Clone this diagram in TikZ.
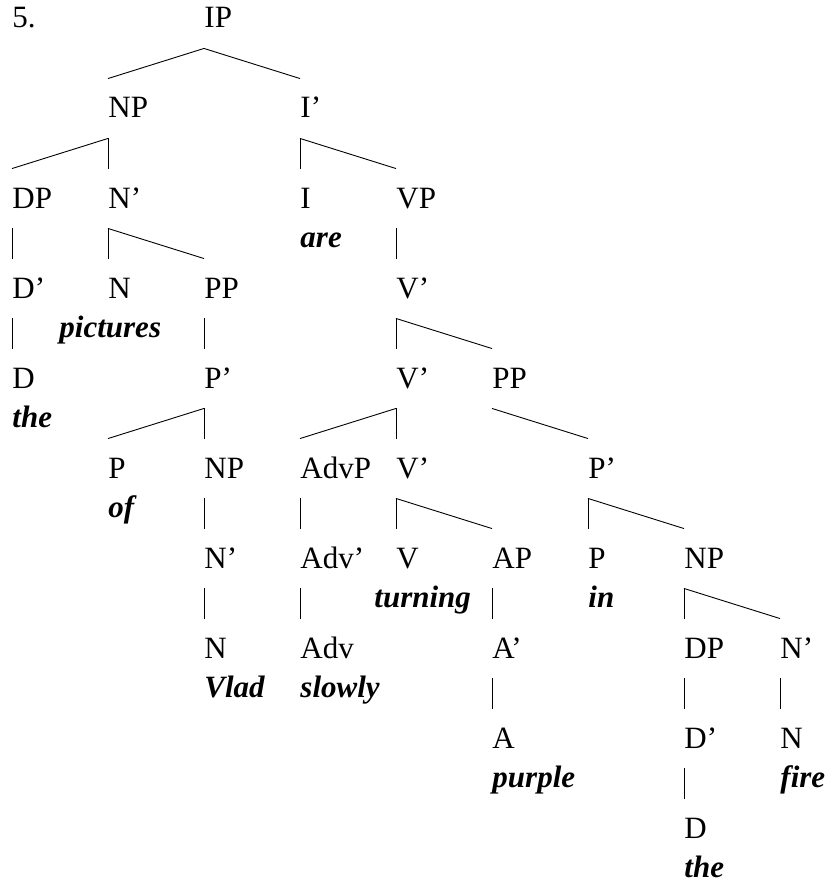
\documentclass[tikz,border=0pt]{standalone}
\usepackage{fontspec}
\setmainfont{Liberation Serif}
\usepackage{tikz}

\begin{document}
\begin{tikzpicture}[x=96pt, y=-90pt, line width=0.9pt,
    lab/.style = {anchor=base west, inner sep=0pt, font=\fontsize{31}{37}\selectfont, text height=39pt, text depth=20pt},
    word/.style = {lab, font=\fontsize{31}{37}\selectfont\bfseries\itshape, yshift=-39pt}]
    \useasboundingbox (-12pt,28pt) rectangle (815pt,-855pt);

    \node[lab] (num) at (0,0) {5.};
    \node[lab] (ip) at (2,0) {IP};
    \node[lab] (np) at (1,1) {NP};
    \node[lab] (ibar) at (3,1) {I'};
    \node[lab] (dp) at (0,2) {DP};
    \node[lab] (nbar) at (1,2) {N'};
    \node[lab] (i) at (3,2) {I};
    \node[word] (are) at (3,2) {are};
    \node[lab] (vp) at (4,2) {VP};
    \node[lab] (dbar) at (0,3) {D'};
    \node[lab] (n) at (1,3) {N};
    \node[word, xshift=-49pt] (pictures) at (1,3) {pictures};
    \node[lab] (pp) at (2,3) {PP};
    \node[lab] (vbar) at (4,3) {V'};
    \node[lab] (d) at (0,4) {D};
    \node[word] (the) at (0,4) {the};
    \node[lab] (pbar) at (2,4) {P'};
    \node[lab] (vbar2) at (4,4) {V'};
    \node[lab] (pp2) at (5,4) {PP};
    \node[lab] (p) at (1,5) {P};
    \node[word] (of) at (1,5) {of};
    \node[lab] (np2) at (2,5) {NP};
    \node[lab] (advp) at (3,5) {AdvP};
    \node[lab] (vbar3) at (4,5) {V'};
    \node[lab] (pbar2) at (6,5) {P'};
    \node[lab] (nbar2) at (2,6) {N'};
    \node[lab] (advbar) at (3,6) {Adv'};
    \node[lab] (v) at (4,6) {V};
    \node[word, xshift=-22pt] (turning) at (4,6) {turning};
    \node[lab] (ap) at (5,6) {AP};
    \node[lab] (p2) at (6,6) {P};
    \node[word] (in) at (6,6) {in};
    \node[lab] (np3) at (7,6) {NP};
    \node[lab] (n2) at (2,7) {N};
    \node[word] (vlad) at (2,7) {Vlad};
    \node[lab] (adv) at (3,7) {Adv};
    \node[word] (slowly) at (3,7) {slowly};
    \node[lab] (abar) at (5,7) {A'};
    \node[lab] (dp2) at (7,7) {DP};
    \node[lab] (nbar3) at (8,7) {N'};
    \node[lab] (a) at (5,8) {A};
    \node[word] (purple) at (5,8) {purple};
    \node[lab] (dbar2) at (7,8) {D'};
    \node[lab] (n3) at (8,8) {N};
    \node[word] (fire) at (8,8) {fire};
    \node[lab] (d2) at (7,9) {D};
    \node[word] (the2) at (7,9) {the};

    \draw (ip.south west) -- (np.north west);
    \draw (ip.south west) -- (ibar.north west);
    \draw (np.south west) -- (dp.north west);
    \draw (np.south west) -- (nbar.north west);
    \draw (ibar.south west) -- (i.north west);
    \draw (ibar.south west) -- (vp.north west);
    \draw (dp.south west) -- (dbar.north west);
    \draw (dbar.south west) -- (d.north west);
    \draw (nbar.south west) -- (n.north west);
    \draw (nbar.south west) -- (pp.north west);
    \draw (vp.south west) -- (vbar.north west);
    \draw (pp.south west) -- (pbar.north west);
    \draw (vbar.south west) -- (vbar2.north west);
    \draw (vbar.south west) -- (pp2.north west);
    \draw (pbar.south west) -- (p.north west);
    \draw (pbar.south west) -- (np2.north west);
    \draw (vbar2.south west) -- (advp.north west);
    \draw (vbar2.south west) -- (vbar3.north west);
    \draw (pp2.south west) -- (pbar2.north west);
    \draw (np2.south west) -- (nbar2.north west);
    \draw (nbar2.south west) -- (n2.north west);
    \draw (advp.south west) -- (advbar.north west);
    \draw (advbar.south west) -- (adv.north west);
    \draw (vbar3.south west) -- (v.north west);
    \draw (vbar3.south west) -- (ap.north west);
    \draw (pbar2.south west) -- (p2.north west);
    \draw (pbar2.south west) -- (np3.north west);
    \draw (ap.south west) -- (abar.north west);
    \draw (abar.south west) -- (a.north west);
    \draw (np3.south west) -- (dp2.north west);
    \draw (np3.south west) -- (nbar3.north west);
    \draw (dp2.south west) -- (dbar2.north west);
    \draw (dbar2.south west) -- (d2.north west);
    \draw (nbar3.south west) -- (n3.north west);
\end{tikzpicture}
\end{document}
